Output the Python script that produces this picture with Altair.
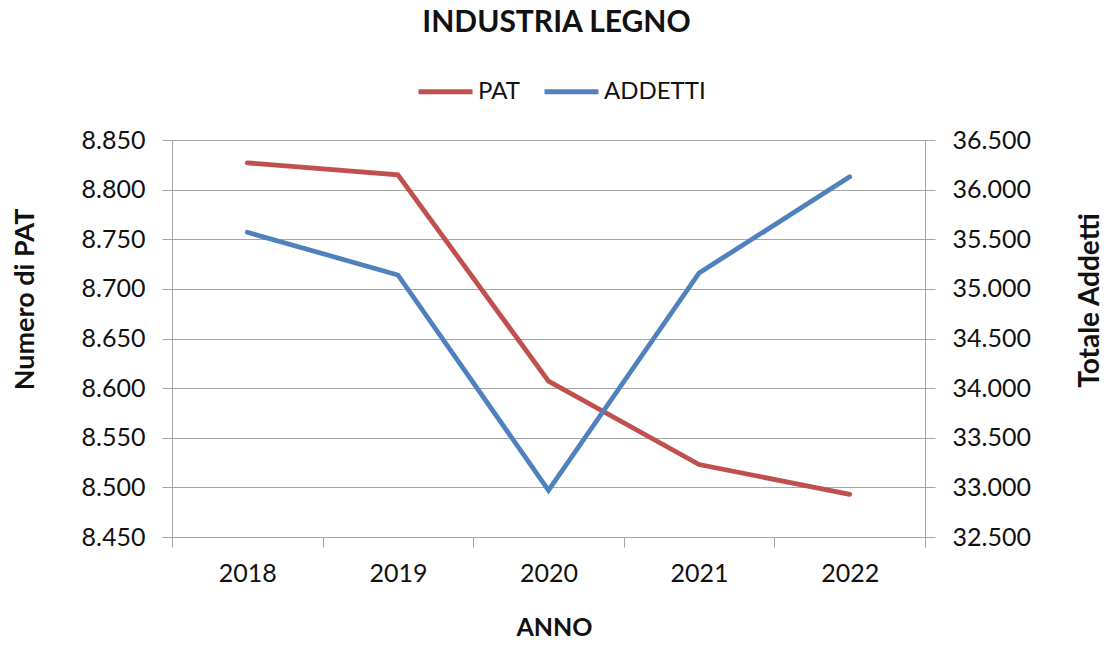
import altair as alt
import pandas as pd

anni = ["2018", "2019", "2020", "2021", "2022"]
pat = [8827, 8815, 8607, 8523, 8493]
addetti = [35570, 35140, 32970, 35160, 36130]
serie = ["PAT", "ADDETTI"]
colori = ["#C0504D", "#4F81BD"]
pat_ticks = [8450, 8500, 8550, 8600, 8650, 8700, 8750, 8800, 8850]
add_ticks = [32500, 33000, 33500, 34000, 34500, 35000, 35500, 36000, 36500]

df = pd.DataFrame({
    "anno": anni * 2,
    "valore": pat + addetti,
    "serie": ["PAT"] * len(anni) + ["ADDETTI"] * len(anni),
})

FONT = "Lato"
GRAY = "#A6A6A6"
TXT = "#111111"
fmt = "replace(format(datum.value, ','), ',', '.')"

common_axis = dict(
    labelFont=FONT, labelFontSize=25, labelColor=TXT,
    titleFont=FONT, titleFontWeight="bold", titleColor=TXT,
    domainColor=GRAY, tickColor=GRAY, tickSize=10, domainWidth=1, tickWidth=1,
)

color = alt.Color(
    "serie:N",
    scale=alt.Scale(domain=serie, range=colori),
    legend=alt.Legend(
        title=None, orient="none", legendX=244, legendY=-78,
        direction="horizontal", symbolType="stroke", symbolSize=2916,
        symbolStrokeWidth=4.8, labelFontSize=24, labelFont=FONT,
        labelColor=TXT, columnPadding=14, labelOffset=3,
    ),
)

x = alt.X(
    "anno:O",
    scale=alt.Scale(type="band", paddingInner=0, paddingOuter=0),
    bandPosition=0.5,
    axis=alt.Axis(
        title="ANNO", tickBand="extent", labelAngle=0, grid=False,
        labelPadding=14, titleX=382, titleY=98, titleBaseline="alphabetic",
        titleFontSize=25, **common_axis,
    ),
)

base = alt.Chart(df).mark_line(strokeWidth=4.8, strokeCap="round", strokeJoin="miter")

left = base.transform_filter(alt.datum.serie == "PAT").encode(
    x=x,
    y=alt.Y(
        "valore:Q",
        scale=alt.Scale(domain=[8450, 8850], nice=False, zero=False),
        axis=alt.Axis(
            orient="left", title="Numero di PAT", values=pat_ticks,
            labelExpr=fmt, grid=True, gridColor=GRAY, gridWidth=1,
            labelPadding=17, titleAngle=270, titleX=-139, titleY=159,
            titleBaseline="alphabetic", titleFontSize=27, **common_axis,
        ),
    ),
    color=color,
)

right = base.transform_filter(alt.datum.serie == "ADDETTI").encode(
    x=x,
    y=alt.Y(
        "valore:Q",
        scale=alt.Scale(domain=[32500, 36500], nice=False, zero=False),
        axis=alt.Axis(
            orient="right", title="Totale Addetti", values=add_ticks,
            labelExpr=fmt, grid=False,
            labelPadding=17, titleAngle=270, titleX=173, titleY=160,
            titleBaseline="alphabetic", titleFontSize=28, **common_axis,
        ),
    ),
    color=color,
)

chart = (
    alt.layer(left, right)
    .resolve_scale(y="independent")
    .properties(
        width=753, height=397,
        autosize=alt.AutoSizeParams(type="none"),
        padding={"left": 164, "top": 132, "right": 175, "bottom": 99},
        title=alt.TitleParams(
            "INDUSTRIA LEGNO", font=FONT, fontSize=30, fontWeight="bold",
            color=TXT, anchor="middle", dx=8, offset=0, baseline="alphabetic",
        ),
    )
    .configure_view(stroke=None)
)

chart.save("out.html", embed_options={"renderer": "svg", "actions": False})
